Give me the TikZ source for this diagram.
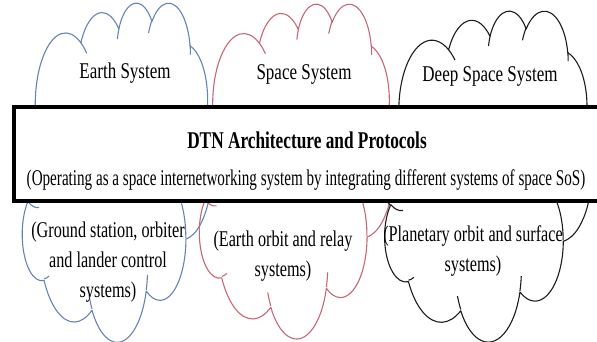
\documentclass[tikz,border=0pt]{standalone}
\usepackage{fontspec}
\setmainfont{Liberation Serif}
\usetikzlibrary{positioning}

\definecolor{earthblue}{RGB}{100,132,184}
\definecolor{spacered}{RGB}{198,104,116}
\definecolor{deepgray}{RGB}{28,28,28}

% angles of the cloud arcs are taken on the ellipse itself, not on its parameter
\pgfmathdeclarefunction{visang}{3}{%
  \begingroup
  \pgfmathparse{atan2(#2*sin(#1),#3*cos(#1))}%
  \let\vangle\pgfmathresult
  \pgfmathparse{\vangle+360*round((#1-\vangle)/360)}%
  \pgfmathsmuggle\pgfmathresult
  \endgroup}
\newcommand\carc[4]{arc[x radius=#1, y radius=#2, start angle={visang(#3,#1,#2)}, end angle={visang(#3+#4,#1,#2)}]}

\tikzset{
  cloud line/.style={line width=1.1pt, line join=round},
  sys text/.style={font=\fontsize{22.5}{30}\selectfont, align=center, inner sep=0pt, xscale=0.72, transform shape},
  sys name/.style={sys text, xscale=1.05},
  dtn title/.style={font=\fontsize{24}{30}\selectfont\bfseries, inner sep=0pt, xscale=0.72, transform shape},
  dtn box/.style={draw=black, fill=white, line width=4pt},
  % cloud drawn in a 43.2 x 43.2 box
  pics/cloud/.style={code={
    \draw[cloud line] (3.9,14.37)
      \carc{6.753}{9.19}{-190.487}{123.781}
      \carc{5.333}{7.267}{-144.102}{89.945}
      \carc{4.365}{5.945}{-145.808}{99.723}
      \carc{4.857}{6.595}{-130.986}{117.242}
      \carc{5.333}{7.273}{-78.709}{109.027}
      \carc{6.775}{9.22}{-46.267}{130.269}
      \carc{5.785}{7.867}{0.625}{114.033}
      \carc{6.752}{9.215}{22.452}{115.173}
      \carc{7.72}{10.543}{66.243}{75.711}
      \carc{4.36}{5.918}{-274.942}{146.736}
      \carc{4.345}{5.945}{-246.829}{152.519} -- cycle;
    % inner folds
    \draw[cloud line] (4.693,26.177) \carc{4.345}{5.945}{86.742}{26.43};
    \draw[cloud line] (6.928,34.899) \carc{4.36}{5.918}{73.61}{11.447};
    \draw[cloud line] (16.478,39.09) \carc{6.752}{9.215}{137.624}{14.081};
    \draw[cloud line] (28.827,34.751) \carc{6.752}{9.215}{6.453}{15.998};
    \draw[cloud line] (34.129,22.954) \carc{5.785}{7.867}{-70.292}{70.917};
    \draw[cloud line] (41.798,15.354) \carc{5.333}{7.273}{30.318}{27.752};
    \draw[cloud line] (38.324,5.426) \carc{4.857}{6.595}{-13.744}{14.859};
    \draw[cloud line] (29.078,3.952) \carc{4.857}{6.595}{-149.181}{18.195};
    \draw[cloud line] (22.141,4.72) \carc{4.365}{5.945}{-163.494}{17.686};
    \draw[cloud line] (14,5.192) \carc{6.753}{9.19}{-66.707}{12.319};
    \draw[cloud line] (4.127,15.789) \carc{6.753}{9.19}{157.654}{11.858};
  }}
}

\begin{document}
\begin{tikzpicture}[x=1pt, y=-1pt]
\useasboundingbox (0,0) rectangle (597,342);
\clip (0,0) rectangle (597,342);

% the three systems
\begin{scope}[shift={(18,2)}, x=4.49pt, y=-7.85pt, earthblue]
  \pic {cloud};
\end{scope}
\begin{scope}[shift={(195,3)}, x=4.6pt, y=-7.75pt, spacered]
  \pic {cloud};
\end{scope}
\begin{scope}[shift={(380,10)}, x=4.9pt, y=-7.66pt, deepgray]
  \pic {cloud};
\end{scope}

\node[sys name, anchor=base] (earthsys) at (125,79) {Earth System};
\node[sys name, anchor=base] (spacesys) at (304,80) {Space System};
\node[sys name, anchor=base] (deepsys) at (490,82) {Deep Space System};

% architecture band across the clouds
\draw[dtn box] (14,107) rectangle (630,201);
\node[dtn title, anchor=base] (dtn) at (307,149) {DTN Architecture and Protocols};
\node[sys text, xscale=0.934, anchor=base] (dtnsub) at (306,185)
  {(Operating as a space internetworking system by integrating different systems of space SoS)};

\node[sys text] (groundtxt) at (108,262) {(Ground station, orbiter\\and lander control\\systems)};
\node[sys text] (orbittxt) at (283,256) {(Earth orbit and relay\\systems)};
\node[sys text] (planettxt) at (473,251) {(Planetary orbit and surface\\systems)};
\end{tikzpicture}
\end{document}
